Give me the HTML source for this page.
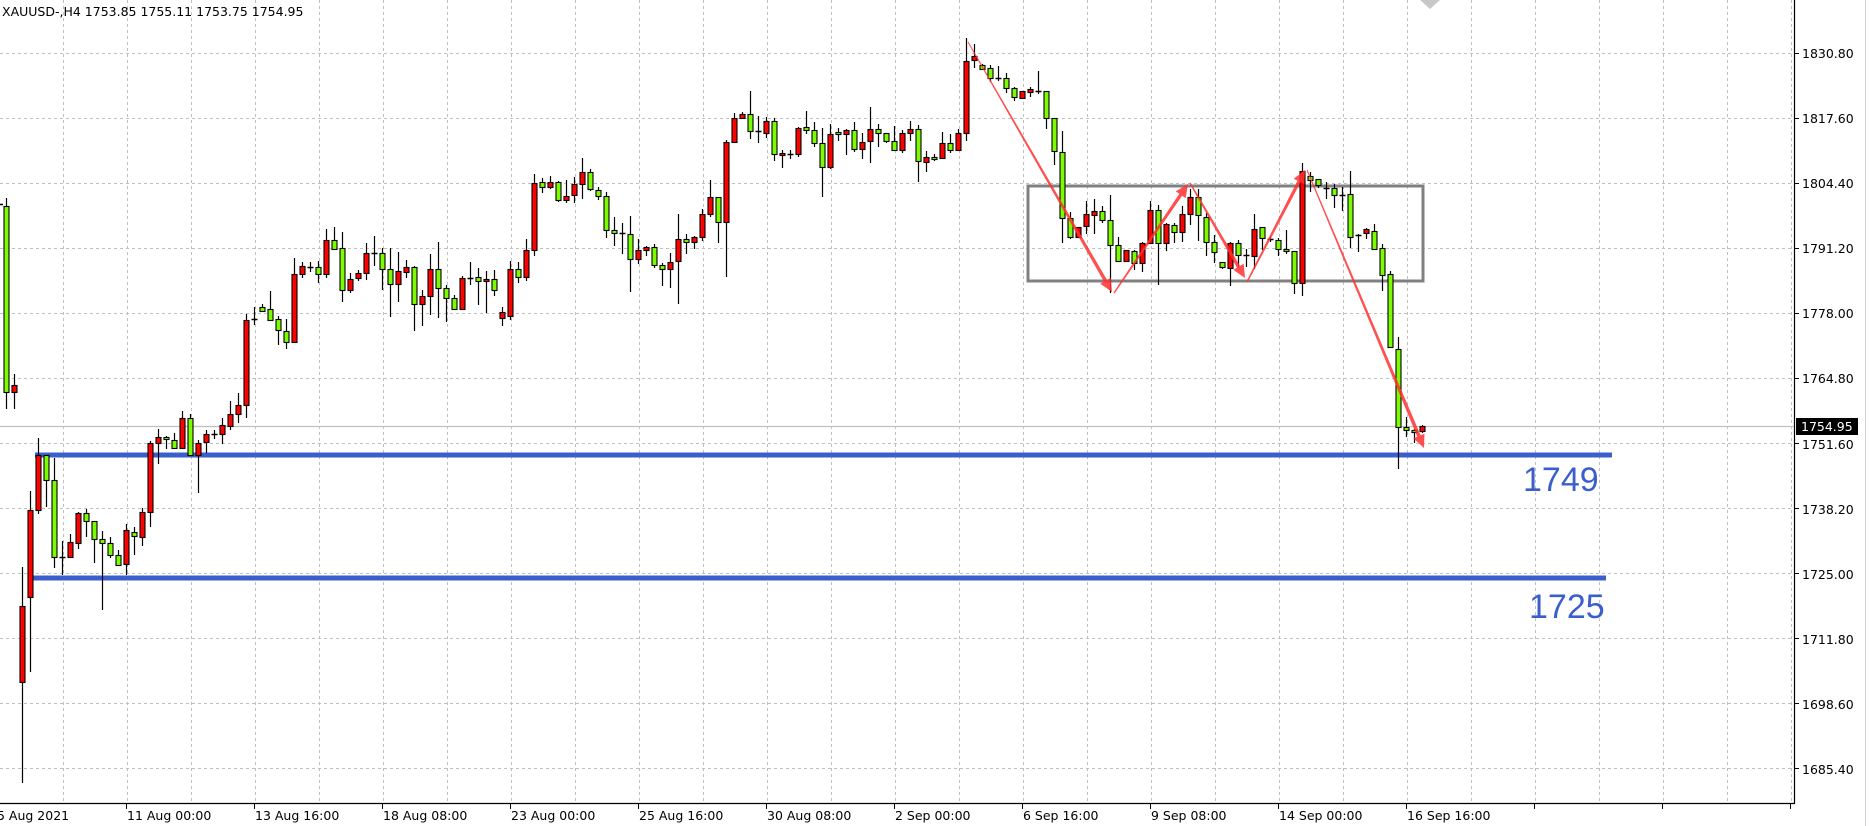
<!DOCTYPE html>
<html><head><meta charset="utf-8">
<style>
html,body{margin:0;padding:0;background:#fff;}
svg{display:block;}
text{font-family:"DejaVu Sans","Liberation Sans",sans-serif;}
</style></head>
<body>
<svg id="c" width="1869" height="826" viewBox="0 0 1869 826" xmlns="http://www.w3.org/2000/svg">
<rect width="1869" height="826" fill="#fff"/>
<g id="grid" stroke="#c0c0c0" stroke-width="1" stroke-dasharray="3,3"></g>
<line x1="0" y1="426.5" x2="1794" y2="426.5" stroke="#c0c0c0" stroke-width="1.3"/>
<line x1="35" y1="455" x2="1612" y2="455" stroke="#3a5fcd" stroke-width="5"/>
<line x1="33" y1="578" x2="1606" y2="578" stroke="#3a5fcd" stroke-width="5"/>
<text x="1523" y="491" font-size="34" fill="#3a5fcd" style="font-family:'Liberation Sans',sans-serif">1749</text>
<text x="1529" y="618" font-size="34" fill="#3a5fcd" style="font-family:'Liberation Sans',sans-serif">1725</text>
<rect x="1028" y="186" width="395" height="95" fill="none" stroke="#808080" stroke-width="3"/>
<g id="candles"></g>
<g id="arrows" fill="#ff3030" fill-opacity="0.85"></g>
<polygon points="1420,0 1440,0 1430,9" fill="#c8c8c8"/>
<line x1="1794.5" y1="0" x2="1794.5" y2="803.5" stroke="#000" stroke-width="1.2"/>
<line x1="0" y1="803.5" x2="1795" y2="803.5" stroke="#000" stroke-width="1.2"/>
<line x1="1865.5" y1="0" x2="1865.5" y2="826" stroke="#d0d0d0" stroke-width="1"/>
<g id="ticks" stroke="#000" stroke-width="1"></g>
<g font-size="12.5" fill="#000">
<text x="1802" y="58">1830.80</text>
<text x="1802" y="123">1817.60</text>
<text x="1802" y="188">1804.40</text>
<text x="1802" y="253">1791.20</text>
<text x="1802" y="318">1778.00</text>
<text x="1802" y="383">1764.80</text>
<text x="1802" y="449">1751.60</text>
<text x="1802" y="514">1738.20</text>
<text x="1802" y="579">1725.00</text>
<text x="1802" y="644">1711.80</text>
<text x="1802" y="709">1698.60</text>
<text x="1802" y="774">1685.40</text>
</g>
<rect x="1796" y="418" width="62" height="17" fill="#000"/>
<text x="1801" y="431" font-size="12.5" fill="#fff">1754.95</text>
<g font-size="12.5" fill="#000">
<text x="-3" y="820">5 Aug 2021</text>
<text x="127" y="820">11 Aug 00:00</text>
<text x="255" y="820">13 Aug 16:00</text>
<text x="383" y="820">18 Aug 08:00</text>
<text x="511" y="820">23 Aug 00:00</text>
<text x="639" y="820">25 Aug 16:00</text>
<text x="767" y="820">30 Aug 08:00</text>
<text x="895" y="820">2 Sep 00:00</text>
<text x="1023" y="820">6 Sep 16:00</text>
<text x="1151" y="820">9 Sep 08:00</text>
<text x="1279" y="820">14 Sep 00:00</text>
<text x="1407" y="820">16 Sep 16:00</text>
</g>
<text x="2" y="16" font-size="12.5" fill="#000">XAUUSD-,H4  1753.85 1755.11 1753.75 1754.95</text>
</svg>
<script>
var NS="http://www.w3.org/2000/svg";
function el(p,t,a){var e=document.createElementNS(NS,t);for(var k in a)e.setAttribute(k,a[k]);p.appendChild(e);return e;}
var g=document.getElementById('grid');
for(var x=63;x<1794;x+=64){el(g,'line',{x1:x+.5,y1:0,x2:x+.5,y2:803});}
for(var i=0;i<12;i++){var y=53+i*65.0;el(g,'line',{x1:0,y1:y+.5,x2:1794,y2:y+.5});}
var tk=document.getElementById('ticks');
for(var i=0;i<12;i++){var y=53+i*65.0;el(tk,'line',{x1:1794,y1:y+.5,x2:1799,y2:y+.5});}
for(var x=127;x<1794;x+=128){el(tk,'line',{x1:x-0.5,y1:803,x2:x-0.5,y2:809});}
var D=[
[6,198,206,392,409,'g'],[14,374,385,392,409,'r'],[22,567,606,682,783,'r'],[30,491,510,597,672,'r'],
[38,438,455,510,514,'r'],[46,455,455,480,507,'g'],[54,458,480,557,568,'g'],[62,541,557,557,575,'d'],
[70,534,542,557,558,'r'],[78,512,513,543,549,'r'],[86,509,513,521,537,'g'],[94,521,521,539,563,'g'],
[102,531,539,543,610,'g'],[110,537,543,555,558,'g'],[118,550,555,565,565,'g'],[126,524,530,564,575,'r'],
[134,527,532,536,555,'g'],[142,508,512,537,546,'r'],[150,441,443,512,527,'r'],[158,429,437,443,464,'r'],
[166,436,437,439,449,'g'],[174,433,440,448,448,'g'],[182,411,418,448,449,'r'],[190,414,418,455,456,'g'],
[198,440,443,455,493,'r'],[206,430,434,442,453,'r'],[214,430,434,434,439,'d'],[222,418,425,434,444,'r'],
[230,401,414,426,430,'r'],[238,393,405,414,423,'r'],[246,314,320,405,418,'r'],
[254,307,319,319,325,'d'],[262,304,307,311,312,'g'],[270,291,309,320,320,'g'],[278,316,319,330,345,'g'],
[286,319,331,342,349,'g'],[294,258,274,342,343,'r'],[302,262,266,274,278,'r'],[310,262,267,267,272,'d'],
[318,261,267,274,283,'g'],[326,229,240,274,278,'r'],[334,227,240,249,249,'g'],[342,232,248,290,302,'g'],
[350,273,279,290,293,'r'],[358,270,273,278,281,'r'],[366,243,253,273,280,'r'],[374,236,253,253,266,'d'],
[382,248,253,269,290,'g'],[390,248,269,284,317,'g'],[398,252,271,284,302,'r'],[406,260,267,272,278,'r'],
[414,266,267,304,331,'g'],[422,290,296,304,326,'r'],[430,254,269,296,315,'r'],[438,242,269,288,318,'g'],
[446,285,288,298,322,'g'],[454,295,298,309,310,'g'],[462,276,278,309,310,'r'],[470,262,278,278,285,'d'],
[478,268,277,281,305,'g'],[486,271,279,281,313,'r'],
[494,270,279,290,296,'g'],[502,307,312,318,326,'r'],[510,261,269,316,320,'r'],[518,262,269,277,283,'g'],
[526,239,250,277,281,'r'],[534,174,183,250,256,'r'],[542,178,182,187,193,'g'],[550,176,182,187,189,'r'],
[558,181,182,200,202,'g'],[566,180,196,200,203,'r'],[574,177,184,195,203,'r'],[582,158,172,184,199,'r'],
[590,169,172,189,191,'g'],[598,187,190,196,200,'g'],[606,192,196,230,238,'g'],[614,217,230,233,246,'g'],
[622,223,233,233,254,'d'],[630,216,234,259,292,'g'],[638,239,250,259,264,'r'],[646,246,247,250,256,'r'],
[654,244,247,265,268,'g'],[662,263,265,269,286,'g'],[670,253,262,269,288,'r'],[678,214,239,261,304,'r'],
[686,234,239,242,254,'g'],[694,236,237,242,249,'r'],[702,209,214,237,241,'r'],[710,180,197,214,217,'r'],
[718,197,197,222,243,'g'],[726,140,142,222,277,'r'],[734,113,118,142,142,'r'],
[742,112,114,118,119,'r'],[750,91,114,131,139,'g'],[758,116,131,131,143,'d'],[766,117,121,133,138,'r'],
[774,118,121,154,161,'g'],[782,150,153,155,168,'r'],[790,150,154,154,159,'d'],[798,127,128,154,157,'r'],
[806,111,127,130,134,'g'],[814,122,130,143,147,'g'],[822,128,143,167,197,'g'],[830,124,134,167,169,'r'],
[838,128,132,134,141,'g'],[846,129,130,134,155,'r'],[854,122,130,149,152,'g'],[862,133,142,149,159,'r'],
[870,107,129,141,163,'r'],[878,124,129,133,147,'g'],[886,133,133,141,143,'g'],[894,126,141,150,150,'g'],
[902,130,133,150,153,'r'],[910,121,129,133,141,'r'],[918,125,129,161,182,'g'],[926,151,157,162,172,'r'],
[934,154,157,159,161,'g'],[942,132,143,158,159,'r'],[950,134,143,150,153,'g'],[958,129,133,150,151,'r'],
[966,38,61,133,141,'r'],[974,44,56,60,68,'r'],[982,64,65,69,70,'g'],
[990,65,68,78,82,'g'],[998,66,78,78,81,'d'],[1006,73,78,88,93,'g'],[1014,87,88,97,101,'g'],
[1022,91,91,98,98,'r'],[1030,87,89,92,97,'r'],[1038,71,91,91,94,'d'],[1046,91,91,118,129,'g'],
[1054,118,118,151,165,'g'],[1062,131,152,218,243,'g'],[1070,212,218,237,239,'g'],[1078,227,227,237,238,'r'],
[1086,201,214,226,234,'r'],[1094,199,211,215,234,'r'],[1102,206,211,220,223,'g'],[1110,195,220,245,293,'g'],
[1118,237,245,261,262,'g'],[1126,250,250,261,261,'r'],[1134,250,251,263,270,'g'],[1142,242,243,263,272,'r'],
[1150,201,210,243,243,'r'],[1158,205,210,243,285,'g'],[1166,223,224,243,251,'r'],[1174,223,225,232,243,'g'],
[1182,206,214,232,242,'r'],[1190,189,197,214,225,'r'],[1198,189,197,215,241,'g'],[1206,213,217,242,256,'g'],
[1214,235,242,252,263,'g'],[1222,262,262,267,269,'g'],[1230,242,243,268,286,'r'],
[1238,240,243,255,267,'g'],[1246,249,255,255,267,'d'],[1254,214,229,256,269,'r'],[1262,227,227,238,250,'g'],
[1270,237,239,239,242,'d'],[1278,238,240,249,256,'g'],[1286,230,249,251,254,'g'],[1294,251,251,283,294,'g'],
[1302,163,171,283,296,'r'],[1310,172,176,180,192,'g'],[1318,179,179,185,188,'g'],[1326,182,188,188,199,'d'],
[1334,184,188,195,208,'g'],[1342,187,195,195,211,'d'],[1350,171,194,237,248,'g'],[1358,234,235,235,252,'d'],
[1366,228,229,233,239,'r'],[1374,224,231,249,250,'g'],[1382,244,248,275,291,'g'],[1390,271,274,347,347,'g'],
[1398,337,349,427,469,'g'],[1406,417,427,430,437,'g'],[1414,429,430,432,443,'g'],[1422,425,426,431,433,'r']
];
var cg=document.getElementById('candles');
el(cg,'line',{x1:0,y1:204.5,x2:3,y2:204.5,stroke:'#000','stroke-width':1.5});
D.forEach(function(c){
 var x=c[0]+.5;
 el(cg,'line',{x1:x,y1:c[1],x2:x,y2:c[4],stroke:'#000','stroke-width':1.2});
 if(c[5]=='d'||c[3]-c[2]<1){
  el(cg,'line',{x1:x-3,y1:c[2]+.5,x2:x+3,y2:c[2]+.5,stroke:'#000','stroke-width':1.5});
 } else {
  el(cg,'rect',{x:x-2.5,y:c[2]+.5,width:5,height:Math.max(c[3]-c[2],2),fill:c[5]=='g'?'#7cfc00':'#ff0000',stroke:'#000','stroke-width':1.1});
 }
});
var ag=document.getElementById('arrows');
function arrow(x0,y0,x1,y1,w0,w1){
 var dx=x1-x0,dy=y1-y0,L=Math.sqrt(dx*dx+dy*dy),ux=dx/L,uy=dy/L,nx=-uy,ny=ux;
 var hl=13,hw=6;
 var bx=x1-ux*hl,by=y1-uy*hl;
 var p=[[x0+nx*w0/2,y0+ny*w0/2],[bx+nx*w1/2,by+ny*w1/2],[bx+nx*hw,by+ny*hw],[x1,y1],[bx-nx*hw,by-ny*hw],[bx-nx*w1/2,by-ny*w1/2],[x0-nx*w0/2,y0-ny*w0/2]];
 el(ag,'polygon',{points:p.map(function(q){return q[0].toFixed(1)+','+q[1].toFixed(1)}).join(' ')});
}
arrow(968,42,1112,292,1,3.5);
arrow(1114,293,1188,184,1.5,3.5);
arrow(1190,183,1245,278,1.5,3.5);
arrow(1247,282,1305,170,1.5,3.5);
arrow(1307,170,1424,448,1,3.5);
</script>
</body></html>
